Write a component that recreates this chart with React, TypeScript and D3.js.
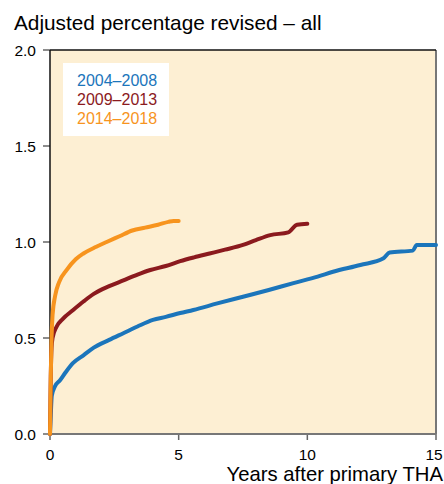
import React, { useRef, useEffect } from 'react';
import * as d3 from 'd3';

const xTicks = [0, 5, 10, 15];
const yTicks = [0, 0.5, 1.0, 1.5, 2.0];

const seriesNames = ['2004–2008', '2009–2013', '2014–2018'];
const seriesColors = ['#1b75bb', '#8b1a1e', '#f7941e'];

// [years, adjusted % revised]
const blue: [number, number][] = [
    [0, 0], [0.03, 0.1], [0.07, 0.2], [0.2, 0.25], [0.39, 0.28], [0.6, 0.32], [0.9, 0.37],
    [1.3, 0.41], [1.7, 0.45], [2.3, 0.49], [2.85, 0.525], [3.4, 0.56], [4.0, 0.594],
    [4.5, 0.61], [5.06, 0.63], [5.57, 0.646], [6.5, 0.68], [7.5, 0.715], [8.5, 0.75],
    [9.46, 0.786], [10.4, 0.82], [11.0, 0.845], [12.06, 0.88], [12.96, 0.915],
    [13.2, 0.945], [14.1, 0.955], [14.25, 0.985], [15, 0.985]
];
const red: [number, number][] = [
    [0, 0], [0.03, 0.3], [0.06, 0.45], [0.1, 0.5], [0.26, 0.56], [0.5, 0.6], [0.9, 0.646],
    [1.3, 0.69], [1.7, 0.73], [2.3, 0.77], [2.85, 0.8], [3.4, 0.83], [3.9, 0.854],
    [4.5, 0.875], [5.06, 0.9], [5.6, 0.92], [6.2, 0.94], [6.8, 0.96], [7.5, 0.985],
    [8.0, 1.01], [8.56, 1.036], [9.26, 1.05], [9.6, 1.09], [10.0, 1.095]
];
const orange: [number, number][] = [
    [0, 0], [0.03, 0.3], [0.06, 0.5], [0.1, 0.62], [0.2, 0.72], [0.35, 0.79], [0.65, 0.855],
    [1.0, 0.91], [1.3, 0.94], [1.8, 0.975], [2.2, 1.0], [2.7, 1.03], [3.2, 1.06],
    [3.7, 1.075], [4.2, 1.09], [4.6, 1.105], [4.8, 1.11], [5.0, 1.11]
];

const App = () => {
    const ref = useRef<SVGSVGElement>(null);

    useEffect(() => {
        const width = 444;
        const height = 484;
        const left = 50, right = 436, top = 50, bottom = 434;
        const font = '"Liberation Sans", Arial, Helvetica, sans-serif';

        const x = d3.scaleLinear().domain([0, 15]).range([left, right]);
        const y = d3.scaleLinear().domain([0, 2]).range([bottom, top]);

        const svg = d3.select(ref.current)
            .attr('width', width)
            .attr('height', height)
            .style('font-family', font);
        svg.selectAll('*').remove();

        svg.append('rect').attr('width', width).attr('height', height).attr('fill', '#fff');

        svg.append('text')
            .attr('x', 14).attr('y', 30)
            .attr('font-size', 20.8)
            .attr('fill', '#000')
            .text('Adjusted percentage revised – all');

        svg.append('rect')
            .attr('x', left).attr('y', top)
            .attr('width', right - left).attr('height', bottom - top)
            .attr('fill', '#fdefd3');

        // y ticks
        const yg = svg.append('g');
        yg.selectAll('line').data(yTicks).join('line')
            .attr('x1', left - 7).attr('x2', left)
            .attr('y1', d => y(d)).attr('y2', d => y(d))
            .attr('stroke', '#666').attr('stroke-width', 1.5);
        yg.selectAll('text').data(yTicks).join('text')
            .attr('x', 36).attr('y', d => y(d) + 5.5)
            .attr('text-anchor', 'end')
            .attr('font-size', 15.5)
            .attr('fill', '#000')
            .text(d => d3.format('.1f')(d));

        // x ticks
        const xg = svg.append('g');
        xg.selectAll('line').data(xTicks).join('line')
            .attr('x1', d => x(d)).attr('x2', d => x(d))
            .attr('y1', bottom).attr('y2', bottom + 6)
            .attr('stroke', '#666').attr('stroke-width', 1.5);
        xg.selectAll('text').data(xTicks).join('text')
            .attr('x', d => Math.min(x(d), 434)).attr('y', 460)
            .attr('text-anchor', 'middle')
            .attr('font-size', 15.5)
            .attr('fill', '#000')
            .text(d => d);

        svg.append('text')
            .attr('x', 443).attr('y', 481)
            .attr('text-anchor', 'end')
            .attr('font-size', 20.3)
            .attr('fill', '#000')
            .text('Years after primary THA');

        // frame
        svg.append('line').attr('x1', right).attr('x2', right).attr('y1', top).attr('y2', bottom)
            .attr('stroke', '#777').attr('stroke-width', 2);
        svg.append('line').attr('x1', left).attr('x2', right).attr('y1', bottom).attr('y2', bottom)
            .attr('stroke', '#777').attr('stroke-width', 2);
        svg.append('line').attr('x1', left).attr('x2', right).attr('y1', top).attr('y2', top)
            .attr('stroke', '#111').attr('stroke-width', 1.5);
        svg.append('line').attr('x1', left).attr('x2', left).attr('y1', top).attr('y2', bottom)
            .attr('stroke', '#111').attr('stroke-width', 1.5);

        // legend
        svg.append('rect')
            .attr('x', 63).attr('y', 63).attr('width', 106).attr('height', 73)
            .attr('fill', '#fff');
        svg.append('g').selectAll('text').data(seriesNames).join('text')
            .attr('x', 77).attr('y', (d, i) => 86 + i * 19)
            .attr('font-size', 16)
            .attr('fill', (d, i) => seriesColors[i])
            .text(d => d);

        const line = d3.line<[number, number]>()
            .x(d => x(d[0]))
            .y(d => y(d[1]))
            .curve(d3.curveMonotoneX);

        [blue, red, orange].forEach((s, i) => {
            svg.append('path')
                .attr('d', line(s))
                .attr('fill', 'none')
                .attr('stroke', seriesColors[i])
                .attr('stroke-width', 4)
                .attr('stroke-linejoin', 'round')
                .attr('stroke-linecap', 'round');
        });
    }, []);

    return <svg ref={ref} style={{ display: 'block', position: 'absolute', left: 0, top: 0 }}></svg>;
};

export default App;
